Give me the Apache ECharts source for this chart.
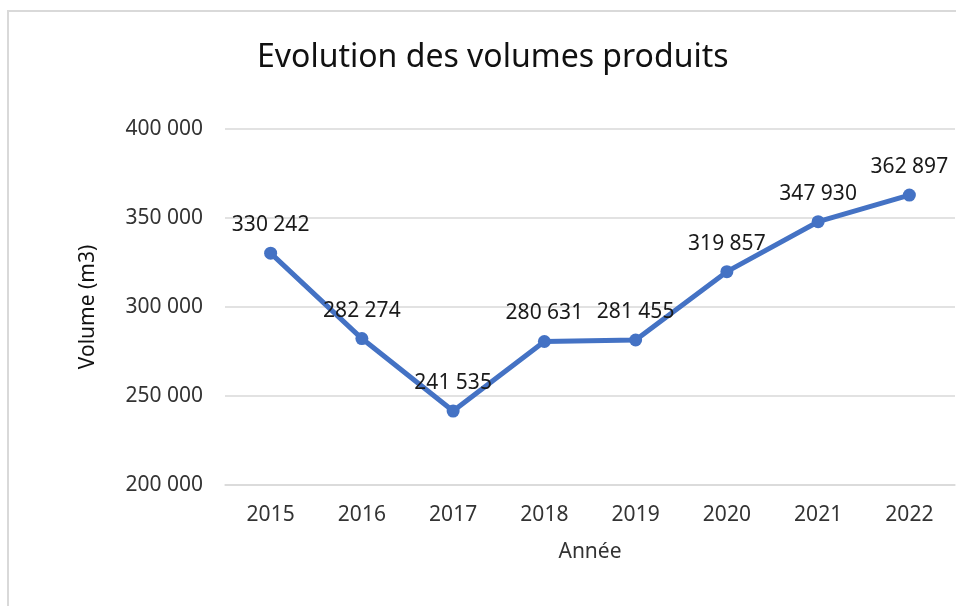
<!DOCTYPE html>
<html>
<head>
<meta charset="utf-8">
<script src="https://cdn.jsdelivr.net/npm/echarts@6/dist/echarts.min.js"></script>
<style>
    html, body { margin: 0; padding: 0; background: #fff; }
    #frame { position: absolute; left: 7px; top: 10px; width: 960px; height: 600px; border-top: 2px solid #d9d9d9; border-left: 2px solid #d9d9d9; }
    #chart { position: absolute; left: 0; top: 0; width: 956px; height: 606px; }
</style>
</head>
<body>
<div id="frame"></div>
<div id="chart"></div>
<script>
//données
var annees = ['2015', '2016', '2017', '2018', '2019', '2020', '2021', '2022'];
var volumes = [330242, 282274, 241535, 280631, 281455, 319857, 347930, 362897];

//format "400 000"
function fmt(v) {
    return String(v).replace(/\B(?=(\d{3})+(?!\d))/g, ' ');
}

var volumechart = echarts.init(document.getElementById('chart'));
volumechart.setOption({
    textStyle: { fontFamily: 'Noto Sans' },
    title: {
        text: 'Evolution des volumes produits',
        left: 252,
        top: 37,
        textStyle: { fontFamily: 'Noto Sans', fontSize: 32, fontWeight: 'normal', color: '#111' }
    },
    grid: {
        left: 225,
        right: 1,
        top: 129,
        bottom: 121
    },
    xAxis: {
        type: 'category',
        data: annees,
        name: 'Année',
        nameLocation: 'middle',
        nameGap: 57,
        nameTextStyle: { fontSize: 21, color: '#333' },
        axisLine: { lineStyle: { color: '#d9d9d9', width: 1.5 } },
        axisTick: { show: false },
        axisLabel: { fontSize: 21, color: '#333', margin: 20 }
    },
    yAxis: {
        type: 'value',
        min: 200000,
        max: 400000,
        interval: 50000,
        name: 'Volume (m3)',
        nameLocation: 'middle',
        nameGap: 126,
        nameTextStyle: { fontSize: 21, color: '#111' },
        axisLine: { show: false },
        axisTick: { show: false },
        splitLine: { lineStyle: { color: '#d9d9d9', width: 1.5 } },
        axisLabel: { fontSize: 21, color: '#333', margin: 22, formatter: fmt }
    },
    series: [{
        type: 'line',
        data: volumes,
        symbol: 'circle',
        symbolSize: 13,
        lineStyle: { color: '#4472c4', width: 5 },
        itemStyle: { color: '#4472c4' },
        label: {
            show: true,
            position: 'top',
            distance: 11,
            fontSize: 21,
            color: '#1a1a1a',
            formatter: function (p) { return fmt(p.value); }
        }
    }]
});
</script>
</body>
</html>
